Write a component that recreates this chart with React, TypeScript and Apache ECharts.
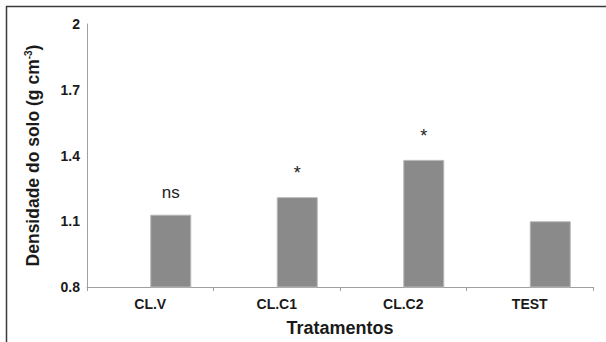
import React, { useEffect, useRef } from "react";
import * as echarts from "echarts";

const categories = ["CL.V", "CL.C1", "CL.C2", "TEST"];
const values = [1.13, 1.21, 1.38, 1.1];
const marks = ["ns", "*", "*", ""];
const yTicks = [0.8, 1.1, 1.4, 1.7, 2];

export default function App() {
  const ref = useRef<HTMLDivElement>(null);
  useEffect(() => {
    document.body.style.margin = "0";
    const chart = echarts.init(ref.current!, null, { renderer: "svg" });
    const font = "'Liberation Sans', Arial, sans-serif";
    chart.setOption({
      animation: false,
      backgroundColor: "#ffffff",
      grid: { left: 87, right: 13, top: 24, bottom: 54 },
      graphic: [
        { type: "line", shape: { x1: 6.5, y1: 6, x2: 6.5, y2: 342 }, style: { stroke: "#3a3a3a", lineWidth: 1.5 } },
        { type: "line", shape: { x1: 6, y1: 6.5, x2: 606, y2: 6.5 }, style: { stroke: "#3a3a3a", lineWidth: 1.5 } },
      ],
      xAxis: {
        type: "category",
        data: categories,
        name: "Tratamentos",
        nameLocation: "middle",
        nameGap: 32,
        nameTextStyle: { fontFamily: font, fontSize: 18, fontWeight: "bold", color: "#1a1a1a" },
        axisLine: { lineStyle: { color: "#a0a0a0", width: 1 } },
        axisTick: { show: true, length: 4, lineStyle: { color: "#a0a0a0" } },
        axisLabel: { fontFamily: font, fontSize: 14, fontWeight: "bold", color: "#1a1a1a", margin: 10 },
      },
      yAxis: {
        type: "value",
        min: 0.8,
        max: 2,
        interval: 0.3,
        name: "{a|Densidade do solo (g cm}{s|-3}{a|)}",
        nameLocation: "middle",
        nameRotate: 90,
        nameGap: 44,
        nameTextStyle: {
          padding: [0, 0, 0, 0],
          rich: {
            a: { fontFamily: font, fontSize: 17.5, fontWeight: "bold", color: "#1a1a1a", lineHeight: 20 },
            s: { fontFamily: font, fontSize: 10, fontWeight: "bold", color: "#1a1a1a", verticalAlign: "top", lineHeight: 20, padding: [0, 0, 7, 0] },
          },
        },
        axisLine: { show: true, lineStyle: { color: "#a0a0a0", width: 1 } },
        axisTick: { show: false },
        splitLine: { show: false },
        axisLabel: {
          fontFamily: font,
          fontSize: 14,
          fontWeight: "bold",
          color: "#1a1a1a",
          margin: 7,
          formatter: (v: number) => {
            const t = yTicks.find((x) => Math.abs(x - v) < 1e-6);
            return t === undefined ? "" : String(t);
          },
        },
      },
      series: [
        { type: "bar", data: categories.map(() => null), barWidth: 41, barGap: "0%" },
        {
          type: "bar",
          barWidth: 41,
          barGap: "0%",
          itemStyle: { color: "#8a8a8a", borderColor: "#b8b8b8", borderWidth: 1 },
          data: values.map((v, i) => ({
            value: v,
            label: {
              show: marks[i] !== "",
              position: "top",
              formatter: marks[i],
              fontFamily: font,
              fontSize: marks[i] === "ns" ? 17 : 18,
              color: "#222",
              distance: marks[i] === "ns" ? 14 : 15,
            },
          })),
        },
      ],
    });
    return () => chart.dispose();
  }, []);
  return <div ref={ref} style={{ width: 606, height: 342 }} />;
}
